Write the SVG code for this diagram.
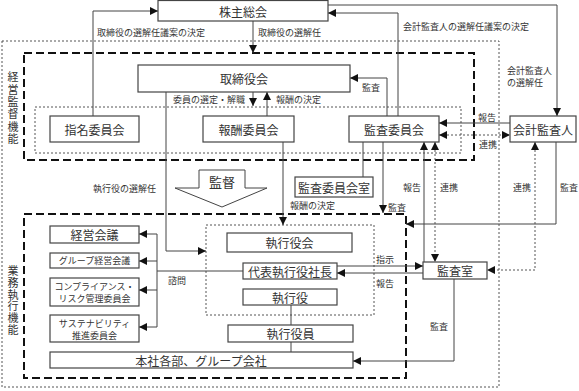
<svg xmlns="http://www.w3.org/2000/svg" width="579" height="391" viewBox="0 0 579 391">
<style>
.box{fill:#fff;stroke:#444;stroke-width:1.2}
.t{font-family:"Noto Sans CJK JP","Noto Sans CJK SC",sans-serif;fill:#333;text-anchor:middle;dominant-baseline:central;font-size:12px}
.s{font-size:9px}
.v{font-family:"Noto Sans CJK JP","Noto Sans CJK SC",sans-serif;fill:#333;font-size:11px;writing-mode:vertical-rl;text-anchor:start}
.l{font-family:"Noto Sans CJK JP","Noto Sans CJK SC",sans-serif;fill:#333;font-size:9px;dominant-baseline:central}
.ln{stroke:#444;stroke-width:1;fill:none}
.dt{stroke:#555;stroke-width:1;stroke-dasharray:2 2;fill:none}
.ds{stroke:#111;stroke-width:2;stroke-dasharray:8 4;fill:none}
.ae{marker-end:url(#ah)}
.ab{marker-start:url(#ah);marker-end:url(#ah)}
</style>
<defs>
<marker id="ah" viewBox="0 0 8 8" markerUnits="userSpaceOnUse" markerWidth="8" markerHeight="8" refX="8" refY="4" orient="auto-start-reverse">
<path d="M0,0 L8,4 L0,8 z" fill="#111"/>
</marker>
</defs>

<g id="frames">
<rect x="2" y="41" width="497" height="346" class="dt"/>
<rect x="24" y="53" width="450" height="107" class="ds"/>
<rect x="35" y="107" width="426" height="46" class="dt"/>
<rect x="24" y="214" width="382" height="164" class="ds"/>
<rect x="206" y="225" width="168" height="90" class="dt"/>
<text class="v" x="13" y="71.5" style="letter-spacing:1.4px">経営監督機能</text>
<text class="v" x="13" y="265.5" style="letter-spacing:0.7px">業務執行機能</text>
</g>

<g id="connectors">
<path class="ln ae" d="M93,116 V11 H158"/>
<path class="ln ae" d="M253,21 V53"/>
<path class="ln ae" d="M398,116 V13 H328"/>
<path class="ln ae" d="M328,5 H557 V116"/>
<path class="ln ae" d="M387,116 V78 H350"/>
<path class="ln ae" d="M253,92 V106"/>
<path class="ln ae" d="M267,116 V92"/>
<path class="ln ae" d="M166,92 V251 H206"/>
<path class="ln ae" d="M283,142 V225"/>
<path class="ln" d="M363,142 V177"/>
<path class="ln ae" d="M383,142 V213"/>
<path class="ln ae" d="M510,123 H439"/>
<path class="dt ab" d="M439,135 H510"/>
<path class="ln ae" d="M556,142 V224 H406"/>
<path class="dt ab" d="M535,142 V270 H487"/>
<path class="ln ae" d="M424,262 V142"/>
<path class="dt ab" d="M435,142 V262"/>
<path class="ln ae" d="M337,266 H423"/>
<path class="ln ae" d="M423,273 H337"/>
<path class="ln ae" d="M454,279 V361 H353"/>
<path class="ln" d="M243,271 H157 M157,234 V327 M291,305 V325 M291,342 V352"/>
<path class="ln ae" d="M157,234 H139"/>
<path class="ln ae" d="M157,261 H139"/>
<path class="ln ae" d="M157,290 H139"/>
<path class="ln ae" d="M157,327 H139"/>
<text class="l" x="97" y="32">取締役の選解任議案の決定</text>
<text class="l" x="258" y="32">取締役の選解任</text>
<text class="l" x="403" y="26">会計監査人の選解任議案の決定</text>
<text class="l" x="507" y="70">会計監査人<tspan x="507" dy="12">の選解任</tspan></text>
<text class="l" x="362" y="87">監査</text>
<text class="l" x="173" y="99">委員の選定・解職</text>
<text class="l" x="276" y="99">報酬の決定</text>
<text class="l" x="478" y="117">報告</text>
<text class="l" x="479" y="144">連携</text>
<text class="l" x="93" y="188">執行役の選解任</text>
<text class="l" x="403" y="187">報告</text>
<text class="l" x="440" y="187">連携</text>
<text class="l" x="513" y="187">連携</text>
<text class="l" x="560" y="187">監査</text>
<text class="l" x="290" y="205">報酬の決定</text>
<text class="l" x="388" y="207">監査</text>
<text class="l" x="376" y="259">指示</text>
<text class="l" x="376" y="283">報告</text>
<text class="l" x="168" y="280">諮問</text>
<text class="l" x="430" y="326">監査</text>
</g>

<g id="kansoku">
<polygon points="199,170 245,170 245,188 267,188 222,207 175,188 199,188" fill="#fff" stroke="#444" stroke-width="1"/>
<text class="t" x="222" y="181" style="font-size:13px">監督</text>
</g>

<g id="kabunushi"><rect class="box" x="158" y="0.5" width="170" height="20.5"/><text class="t" x="243" y="11">株主総会</text></g>
<g id="torishimariyakukai"><rect class="box" x="138" y="65" width="212" height="27"/><text class="t" x="244" y="78.5">取締役会</text></g>
<g id="shimei"><rect class="box" x="50" y="116" width="89" height="26"/><text class="t" x="94.5" y="129">指名委員会</text></g>
<g id="houshu"><rect class="box" x="203" y="116" width="91" height="26"/><text class="t" x="248.5" y="129">報酬委員会</text></g>
<g id="kansa"><rect class="box" x="349" y="116" width="90" height="26"/><text class="t" x="394" y="129">監査委員会</text></g>
<g id="kaikei"><rect class="box" x="510" y="116" width="66" height="26"/><text class="t" x="543" y="129">会計監査人</text></g>
<g id="kansashitsu-iin"><rect class="box" x="295" y="177" width="78" height="20"/><text class="t" x="334" y="187">監査委員会室</text></g>
<g id="kansashitsu"><rect class="box" x="423" y="262" width="64" height="17"/><text class="t" x="455" y="270.5">監査室</text></g>
<g id="keiei"><rect class="box" x="50" y="226" width="89" height="17"/><text class="t" x="94.5" y="234.5">経営会議</text></g>
<g id="group"><rect class="box" x="50" y="253" width="89" height="15"/><text class="t s" x="94.5" y="260.5">グループ経営会議</text></g>
<g id="compliance"><rect class="box" x="50" y="278" width="89" height="28"/><text class="t s" x="94.5" y="286">コンプライアンス・<tspan x="94.5" dy="12">リスク管理委員会</tspan></text></g>
<g id="sustain"><rect class="box" x="50" y="315" width="89" height="27"/><text class="t s" x="94.5" y="323">サステナビリティ<tspan x="94.5" dy="12">推進委員会</tspan></text></g>
<g id="honsha"><rect class="box" x="50" y="352" width="303" height="16"/><text class="t" x="201" y="360">本社各部、グループ会社</text></g>
<g id="shikkouyakukai"><rect class="box" x="227" y="233" width="125" height="19"/><text class="t" x="289.5" y="242.5">執行役会</text></g>
<g id="daihyou"><rect class="box" x="243" y="263" width="94" height="16"/><text class="t" x="290" y="271">代表執行役社長</text></g>
<g id="shikkouyaku"><rect class="box" x="243" y="289" width="94" height="16"/><text class="t" x="290" y="297">執行役</text></g>
<g id="shikkouyakuin"><rect class="box" x="228" y="325" width="125" height="17"/><text class="t" x="290.5" y="333.5">執行役員</text></g>
</svg>
